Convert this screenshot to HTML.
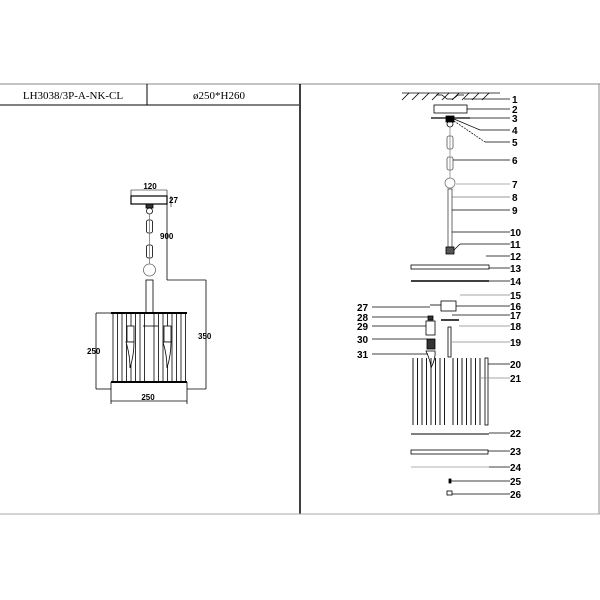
<!DOCTYPE html>
<html><head><meta charset="utf-8"><style>
html,body{margin:0;padding:0;background:#fff;width:600px;height:600px;overflow:hidden}
text{font-family:"Liberation Sans",Arial,sans-serif;font-weight:bold}
text.hd{font-family:"Liberation Serif",serif;font-weight:normal}
</style></head><body>
<svg width="600" height="600" viewBox="0 0 600 600" xmlns="http://www.w3.org/2000/svg">
<g stroke="#000" fill="none">
<line x1="0" y1="84" x2="600" y2="84" stroke="#888" stroke-width="1"/>
<line x1="0" y1="105" x2="299" y2="105" stroke-width="1"/>
<line x1="147" y1="84" x2="147" y2="105" stroke-width="1"/>
<line x1="300" y1="84" x2="300" y2="514" stroke-width="1.5"/>
<line x1="599" y1="84" x2="599" y2="514" stroke="#888"/>
<line x1="0" y1="514" x2="600" y2="514" stroke="#aaa"/>
</g>
<text class="hd" x="73" y="99" font-size="11" text-anchor="middle">LH3038/3P-A-NK-CL</text>
<text class="hd" x="219" y="99" font-size="11" text-anchor="middle">ø250*H260</text>

<g stroke="#000" fill="none" stroke-width="0.8">
<rect x="131" y="196" width="36" height="8" stroke-width="1.2"/>
<line x1="131" y1="190" x2="167" y2="190" stroke-width="0.6"/>
<line x1="131" y1="190" x2="131" y2="196" stroke-width="0.6"/>
<line x1="167" y1="190" x2="167" y2="196" stroke-width="0.6"/>
<line x1="171" y1="196" x2="171" y2="207" stroke-width="0.6"/>
<rect x="146" y="204" width="7" height="4" fill="#333"/>
<circle cx="149.5" cy="211" r="3"/>
<rect x="146.5" y="220" width="6" height="13" rx="2"/>
<rect x="146.5" y="245" width="6" height="13" rx="2"/>
<circle cx="149.5" cy="270" r="6" stroke="#666"/>
<line x1="149.5" y1="214" x2="149.5" y2="264" stroke="#777"/>
<line x1="167" y1="204" x2="167" y2="280"/>
<line x1="167" y1="280" x2="206" y2="280"/>
<line x1="206" y1="280" x2="206" y2="389"/>
<line x1="187" y1="389" x2="206" y2="389"/>
<rect x="146" y="280" width="7" height="33"/>
<line x1="111" y1="313" x2="187" y2="313" stroke-width="2"/>
<line x1="111" y1="382" x2="187" y2="382" stroke-width="2"/>
<line x1="96" y1="313" x2="111" y2="313"/>
<line x1="96" y1="313" x2="96" y2="389"/>
<line x1="96" y1="389" x2="111" y2="389"/>
<line x1="111" y1="382" x2="111" y2="404"/>
<line x1="187" y1="382" x2="187" y2="404"/>
<line x1="111" y1="401" x2="187" y2="401"/>
<line x1="143" y1="326" x2="158" y2="326"/>
</g>
<g stroke="#000" stroke-width="0.8">
<line x1="113" y1="314" x2="113" y2="382"/><line x1="117.5" y1="314" x2="117.5" y2="382"/>
<line x1="122" y1="314" x2="122" y2="382"/><line x1="126.5" y1="314" x2="126.5" y2="382"/>
<line x1="131" y1="314" x2="131" y2="382"/><line x1="135.5" y1="314" x2="135.5" y2="382"/>
<line x1="140" y1="314" x2="140" y2="382"/><line x1="144.5" y1="314" x2="144.5" y2="382"/>
<line x1="154" y1="314" x2="154" y2="382"/><line x1="158.5" y1="314" x2="158.5" y2="382"/>
<line x1="163" y1="314" x2="163" y2="382"/><line x1="167.5" y1="314" x2="167.5" y2="382"/>
<line x1="172" y1="314" x2="172" y2="382"/><line x1="176.5" y1="314" x2="176.5" y2="382"/>
<line x1="181" y1="314" x2="181" y2="382"/><line x1="185.5" y1="314" x2="185.5" y2="382"/>
</g>
<g fill="#fff" stroke="#000" stroke-width="0.8">
<rect x="127" y="326" width="7" height="16"/><path d="M126 342 Q130 355 130 368 Q134 355 134 342Z"/>
<rect x="164" y="326" width="7" height="16"/><path d="M163 342 Q167 355 167 368 Q171 355 171 342Z"/>
</g>
<text x="150" y="189" font-size="8" text-anchor="middle">120</text>
<text x="169" y="203" font-size="8">27</text>
<text x="160" y="239" font-size="8">900</text>
<text x="198" y="339" font-size="8">350</text>
<text x="87" y="354" font-size="8">250</text>
<text x="148" y="400" font-size="8" text-anchor="middle">250</text>

<g stroke="#000" fill="none" stroke-width="0.8">
<line x1="402" y1="93" x2="500" y2="93"/>
<path d="M402 100 l7 -7 M412 100 l7 -7 M422 100 l7 -7 M432 100 l7 -7 M442 100 l7 -7 M452 100 l7 -7 M462 100 l7 -7 M472 100 l7 -7 M482 100 l7 -7"/>
<path d="M436 95 h6 l5 4 h6 l5 -4 h6"/>
<rect x="434" y="105" width="33" height="8"/>
<line x1="431" y1="118" x2="470" y2="118" stroke-width="1.2"/>
<rect x="446" y="116" width="8" height="6" fill="#000"/>
<circle cx="450" cy="124" r="3"/>
<rect x="447" y="136" width="6" height="13" rx="2" stroke="#555"/>
<rect x="447" y="157" width="6" height="13" rx="2" stroke="#555"/>
<line x1="450" y1="127" x2="450" y2="178" stroke="#888"/>
<circle cx="450" cy="183" r="5" stroke="#777"/>
<rect x="448" y="189" width="4" height="58" stroke="#444"/>
<rect x="446" y="247" width="8" height="7" fill="#555"/>
<rect x="411" y="265" width="78" height="4"/>
<line x1="411" y1="281" x2="489" y2="281" stroke-width="1.5"/>
<rect x="441" y="301" width="15" height="10"/>
<line x1="430" y1="305" x2="441" y2="305"/>
<line x1="441" y1="320" x2="459" y2="320" stroke-width="1.5"/>
<rect x="448" y="327" width="3" height="30"/>
<rect x="428" y="316" width="5" height="4" fill="#333"/>
<rect x="426" y="321" width="9" height="14" fill="#fff"/>
<rect x="427" y="339" width="8" height="10" fill="#333"/>
<path d="M426 351 Q431 362 431 368 Q436 358 435 351Z"/>
<rect x="485" y="358" width="3" height="67"/>
<line x1="411" y1="434" x2="489" y2="434" stroke-width="1"/>
<rect x="411" y="450" width="77" height="4"/>
<line x1="411" y1="467" x2="489" y2="467" stroke="#999"/>
<rect x="449" y="479" width="2" height="4" fill="#000"/>
<rect x="447" y="491" width="5" height="4"/>
</g>
<g stroke="#000" stroke-width="0.9">
<line x1="413" y1="358" x2="413" y2="425"/><line x1="417.5" y1="358" x2="417.5" y2="425"/>
<line x1="422" y1="358" x2="422" y2="425"/><line x1="426.5" y1="358" x2="426.5" y2="425"/>
<line x1="431" y1="358" x2="431" y2="425"/><line x1="435.5" y1="358" x2="435.5" y2="425"/>
<line x1="440" y1="358" x2="440" y2="425"/><line x1="444.5" y1="358" x2="444.5" y2="425"/>
<line x1="453" y1="358" x2="453" y2="425"/><line x1="457.5" y1="358" x2="457.5" y2="425"/>
<line x1="462" y1="358" x2="462" y2="425"/><line x1="466.5" y1="358" x2="466.5" y2="425"/>
<line x1="471" y1="358" x2="471" y2="425"/><line x1="475.5" y1="358" x2="475.5" y2="425"/>
<line x1="480" y1="358" x2="480" y2="425"/>
</g>
<g stroke="#000" stroke-width="0.7">
<line x1="464" y1="99" x2="510" y2="99"/>
<line x1="467" y1="109" x2="510" y2="109"/>
<line x1="470" y1="118" x2="510" y2="118"/>
<line x1="454" y1="119" x2="480" y2="130"/><line x1="480" y1="130" x2="510" y2="130"/>
<line x1="454" y1="121" x2="485" y2="142" stroke-dasharray="2,1"/><line x1="485" y1="142" x2="510" y2="142"/>
<line x1="453" y1="160" x2="510" y2="160"/>
<line x1="456" y1="184" x2="510" y2="184" stroke="#999"/>
<line x1="452" y1="197" x2="510" y2="197" stroke="#777"/>
<line x1="452" y1="210" x2="510" y2="210"/>
<line x1="452" y1="232" x2="510" y2="232"/>
<line x1="454" y1="250" x2="460" y2="244"/><line x1="460" y1="244" x2="510" y2="244"/>
<line x1="486" y1="256" x2="510" y2="256"/>
<line x1="489" y1="268" x2="510" y2="268"/>
<line x1="489" y1="281" x2="510" y2="281"/>
<line x1="460" y1="295" x2="510" y2="295" stroke="#888"/>
<line x1="456" y1="306" x2="510" y2="306"/>
<line x1="452" y1="315" x2="510" y2="315"/>
<line x1="459" y1="326" x2="510" y2="326" stroke="#888"/>
<line x1="451" y1="342" x2="510" y2="342" stroke="#888"/>
<line x1="488" y1="364" x2="510" y2="364"/>
<line x1="481" y1="378" x2="510" y2="378" stroke="#888"/>
<line x1="489" y1="433" x2="510" y2="433"/>
<line x1="488" y1="451" x2="510" y2="451"/>
<line x1="489" y1="467" x2="510" y2="467"/>
<line x1="451" y1="481" x2="510" y2="481"/>
<line x1="452" y1="494" x2="510" y2="494"/>
<line x1="372" y1="307" x2="430" y2="307"/>
<line x1="372" y1="317" x2="428" y2="317"/>
<line x1="372" y1="326" x2="426" y2="326"/>
<line x1="372" y1="339" x2="427" y2="339"/>
<line x1="372" y1="354" x2="428" y2="354"/>
</g>
<g font-size="10">
<text x="512" y="103">1</text><text x="512" y="113">2</text><text x="512" y="122">3</text>
<text x="512" y="134">4</text><text x="512" y="146">5</text><text x="512" y="164">6</text>
<text x="512" y="188">7</text><text x="512" y="201">8</text><text x="512" y="214">9</text>
<text x="510" y="236">10</text><text x="510" y="248">11</text><text x="510" y="260">12</text>
<text x="510" y="272">13</text><text x="510" y="285">14</text><text x="510" y="299">15</text>
<text x="510" y="310">16</text><text x="510" y="319">17</text><text x="510" y="330">18</text>
<text x="510" y="346">19</text><text x="510" y="368">20</text><text x="510" y="382">21</text>
<text x="510" y="437">22</text><text x="510" y="455">23</text><text x="510" y="471">24</text>
<text x="510" y="485">25</text><text x="510" y="498">26</text>
<text x="357" y="311">27</text><text x="357" y="321">28</text><text x="357" y="330">29</text>
<text x="357" y="343">30</text><text x="357" y="358">31</text>
</g>
</svg>
</body></html>
